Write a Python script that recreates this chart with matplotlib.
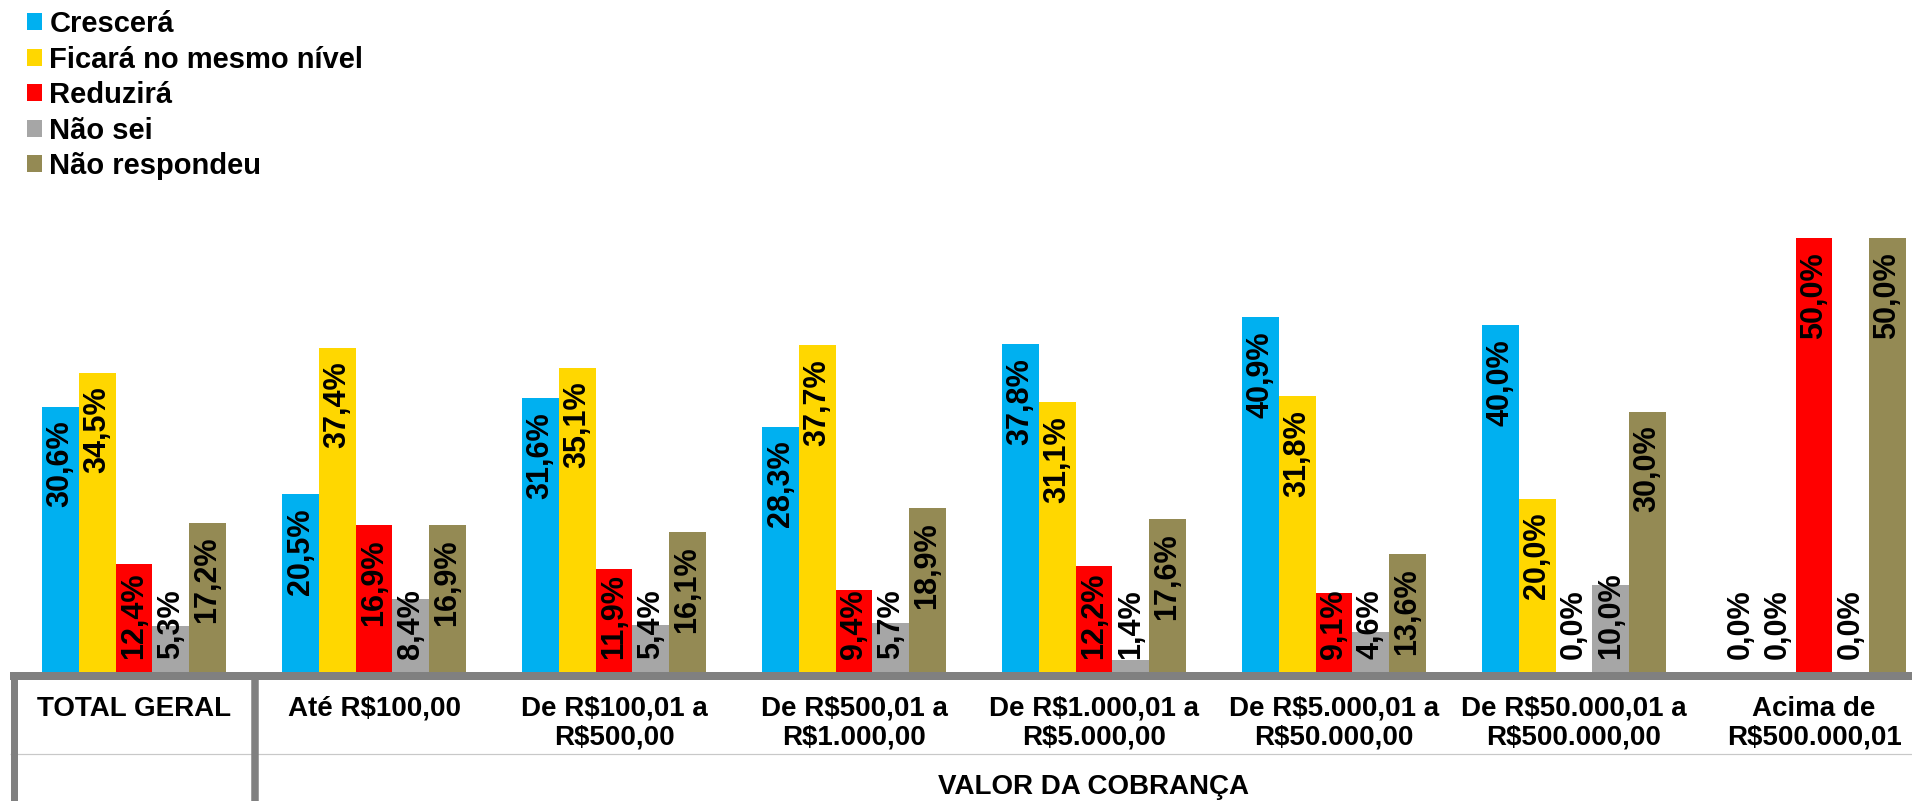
import matplotlib
matplotlib.use("Agg")
import matplotlib.pyplot as plt
import matplotlib.transforms as mtransforms
from matplotlib.patches import Patch
from matplotlib.lines import Line2D
import numpy as np

plt.rcParams['font.family'] = ['Liberation Sans', 'DejaVu Sans']
plt.rcParams['font.weight'] = 'bold'

categories = ["TOTAL GERAL", "Até R$100,00", "De R$100,01 a\nR$500,00",
              "De R$500,01 a\nR$1.000,00", "De R$1.000,01 a\nR$5.000,00",
              "De R$5.000,01 a\nR$50.000,00", "De R$50.000,01 a\nR$500.000,00",
              "Acima de\nR$500.000,01"]
series_names = ["Crescerá", "Ficará no mesmo nível", "Reduzirá", "Não sei", "Não respondeu"]
cresce = [30.6, 20.5, 31.6, 28.3, 37.8, 40.9, 40.0, 0.0]
mesmo = [34.5, 37.4, 35.1, 37.7, 31.1, 31.8, 20.0, 0.0]
reduz = [12.4, 16.9, 11.9, 9.4, 12.2, 9.1, 0.0, 50.0]
naosei = [5.3, 8.4, 5.4, 5.7, 1.4, 4.6, 10.0, 0.0]
naoresp = [17.2, 16.9, 16.1, 18.9, 17.6, 13.6, 30.0, 50.0]
series = [cresce, mesmo, reduz, naosei, naoresp]
colors = ["#00B0F0", "#FFD700", "#FF0000", "#A6A6A6", "#948A54"]
axis_title = "VALOR DA COBRANÇA"

W, H = 1912, 801
fig = plt.figure(figsize=(W / 100, H / 100), dpi=100)

# axes geometry in pixels
base_px = 672          # y of value 0 (from top)
left_px = 14
ymax = 52.0
px_per_unit = 8.674
top_px = base_px - ymax * px_per_unit
ax = fig.add_axes([left_px / W, (H - base_px) / H, (W - left_px) / W, (base_px - top_px) / H])
ax.set_xlim(-0.5, (W - left_px) / 240.0 - 0.5)
ax.set_ylim(0, ymax)
for s in ax.spines.values():
    s.set_visible(False)
ax.set_yticks([])

x = np.arange(len(categories))
bw = 0.153
anns = []
for i, (vals, col) in enumerate(zip(series, colors)):
    xs = x + (i - 2) * bw
    ax.bar(xs, vals, width=bw, color=col, edgecolor='none', zorder=2)
    for xi, v in zip(xs, vals):
        lab = f"{v:.1f}%".replace('.', ',')
        a = ax.annotate(lab, xy=(xi, v), xytext=(0, -14 * 0.72), textcoords='offset points',
                        rotation=90, ha='center', va='top', fontsize=22, fontweight='bold',
                        color='black', zorder=3)
        anns.append((a, xi))

ax.set_xticks(x)
ax.set_xticklabels(categories, fontsize=20, fontweight='bold', linespacing=1.12)
ax.tick_params(axis='x', length=0, pad=17)

fig.canvas.draw()
r = fig.canvas.get_renderer()
base_disp = ax.transData.transform((0, 0))[1]
for a, xi in anns:
    bb = a.get_window_extent(r)
    if bb.y0 < base_disp + 13:
        a.xy = (xi, 0)
        a.xyann = (0, 13 * 0.72)
        a.set_va('bottom')

# axis title
ax.text(4, (H - 786.7) / H, axis_title,
        transform=mtransforms.blended_transform_factory(ax.transData, fig.transFigure),
        ha='center', va='center', fontsize=20, fontweight='bold')

# table-like lines
gray = "#808080"
def fline(x0, y0, x1, y1, lw_px, color=gray):
    fig.add_artist(Line2D([x0 / W, x1 / W], [1 - y0 / H, 1 - y1 / H], transform=fig.transFigure,
                          color=color, linewidth=lw_px * 0.72, solid_capstyle='butt', zorder=5))

fline(10, 754, W, 754, 1.2, "#C8C8C8")
fline(13.7, 676, 13.7, H, 7)
fline(254.5, 676, 254.5, H, 7.5)
fline(10, 676, W, 676, 8)

handles = [Patch(facecolor=c, edgecolor='none') for c in colors]
fig.legend(handles, series_names, loc='upper left', bbox_to_anchor=(27 / W, 1 - 10 / H),
           frameon=False, prop={'weight': 'bold', 'size': 21},
           handlelength=0.52, handleheight=0.52, handletextpad=0.25, labelspacing=0.26,
           borderpad=0, borderaxespad=0)

fig.savefig("out.png", dpi=100)
